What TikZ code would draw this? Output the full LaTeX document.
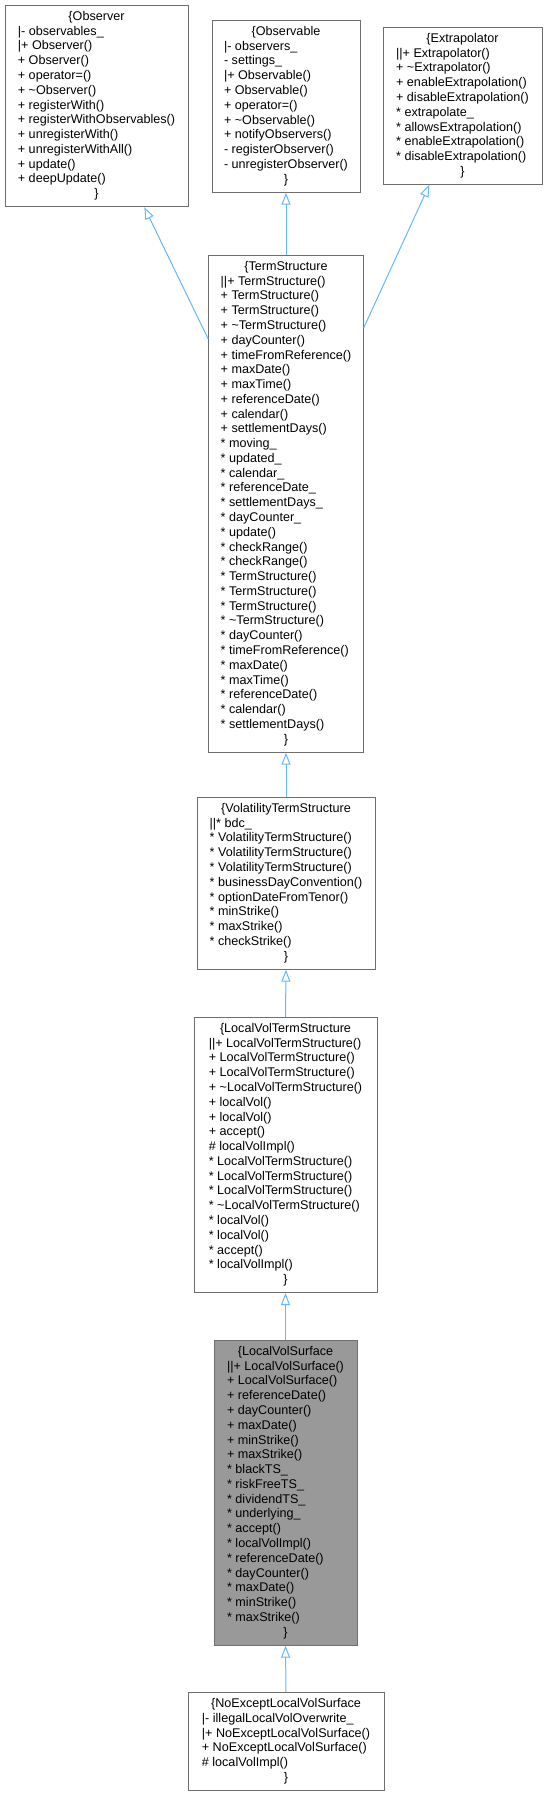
\documentclass[tikz,border=0pt]{standalone}
\usepackage{fontspec}
\setmainfont{Liberation Sans}
\usepackage{tikz}
\usetikzlibrary{arrows.meta,positioning}
\usepackage{xcolor}
\definecolor{edgeblue}{HTML}{63B8FF}
\definecolor{boxgray}{HTML}{6E6E6E}
\definecolor{fillgray}{HTML}{999999}
\newcommand{\ctitle}[1]{\multicolumn{1}{@{}c@{}}{#1}}

\begin{document}
\begin{tikzpicture}[
      x=1pt, y=-1pt,
      classbox/.style={draw=boxgray, line width=1pt, fill=white, anchor=north,
        inner xsep=0pt, inner ysep=4.6pt, font=\fontsize{12.6}{14.77}\selectfont},
      current/.style={classbox, fill=fillgray},
      inherit/.style={draw=edgeblue, line width=1pt, -{Triangle[open, length=12pt, width=9pt]}}
    ]
    \useasboundingbox (0,0) rectangle (548,1796);
    % Base classes
    \node[classbox, minimum width=183pt] (observer) at (96.5,5) {\begin{tabular}{@{}l@{}}
      \ctitle{\{Observer}\\
      |- observables\_\\
      |+ Observer()\\
      + Observer()\\
      + operator=()\\
      + \textasciitilde Observer()\\
      + registerWith()\\
      + registerWithObservables()\\
      + unregisterWith()\\
      + unregisterWithAll()\\
      + update()\\
      + deepUpdate()\\
      \ctitle{\}}
    \end{tabular}};
    \node[classbox, minimum width=148pt] (observable) at (286,20) {\begin{tabular}{@{}l@{}}
      \ctitle{\{Observable}\\
      |- observers\_\\
      - settings\_\\
      |+ Observable()\\
      + Observable()\\
      + operator=()\\
      + \textasciitilde Observable()\\
      + notifyObservers()\\
      - registerObserver()\\
      - unregisterObserver()\\
      \ctitle{\}}
    \end{tabular}};
    \node[classbox, minimum width=159pt] (extrapolator) at (462.5,27) {\begin{tabular}{@{}l@{}}
      \ctitle{\{Extrapolator}\\
      ||+ Extrapolator()\\
      + \textasciitilde Extrapolator()\\
      + enableExtrapolation()\\
      + disableExtrapolation()\\
      {*} extrapolate\_\\
      {*} allowsExtrapolation()\\
      {*} enableExtrapolation()\\
      {*} disableExtrapolation()\\
      \ctitle{\}}
    \end{tabular}};
    % Term structure chain
    \node[classbox, minimum width=154.6pt] (termstructure) at (286,255) {\begin{tabular}{@{}l@{}}
      \ctitle{\{TermStructure}\\
      ||+ TermStructure()\\
      + TermStructure()\\
      + TermStructure()\\
      + \textasciitilde TermStructure()\\
      + dayCounter()\\
      + timeFromReference()\\
      + maxDate()\\
      + maxTime()\\
      + referenceDate()\\
      + calendar()\\
      + settlementDays()\\
      {*} moving\_\\
      {*} updated\_\\
      {*} calendar\_\\
      {*} referenceDate\_\\
      {*} settlementDays\_\\
      {*} dayCounter\_\\
      {*} update()\\
      {*} checkRange()\\
      {*} checkRange()\\
      {*} TermStructure()\\
      {*} TermStructure()\\
      {*} TermStructure()\\
      {*} \textasciitilde TermStructure()\\
      {*} dayCounter()\\
      {*} timeFromReference()\\
      {*} maxDate()\\
      {*} maxTime()\\
      {*} referenceDate()\\
      {*} calendar()\\
      {*} settlementDays()\\
      \ctitle{\}}
    \end{tabular}};
    \node[classbox, minimum width=178pt] (volts) at (286,797) {\begin{tabular}{@{}l@{}}
      \ctitle{\{VolatilityTermStructure}\\
      ||* bdc\_\\
      {*} VolatilityTermStructure()\\
      {*} VolatilityTermStructure()\\
      {*} VolatilityTermStructure()\\
      {*} businessDayConvention()\\
      {*} optionDateFromTenor()\\
      {*} minStrike()\\
      {*} maxStrike()\\
      {*} checkStrike()\\
      \ctitle{\}}
    \end{tabular}};
    \node[classbox, minimum width=183pt] (localvolts) at (285.5,1017) {\begin{tabular}{@{}l@{}}
      \ctitle{\{LocalVolTermStructure}\\
      ||+ LocalVolTermStructure()\\
      + LocalVolTermStructure()\\
      + LocalVolTermStructure()\\
      + \textasciitilde LocalVolTermStructure()\\
      + localVol()\\
      + localVol()\\
      + accept()\\
      \# localVolImpl()\\
      {*} LocalVolTermStructure()\\
      {*} LocalVolTermStructure()\\
      {*} LocalVolTermStructure()\\
      {*} \textasciitilde LocalVolTermStructure()\\
      {*} localVol()\\
      {*} localVol()\\
      {*} accept()\\
      {*} localVolImpl()\\
      \ctitle{\}}
    \end{tabular}};
    % The documented class, highlighted
    \node[current, minimum width=143pt] (localvolsurface) at (285.5,1340) {\begin{tabular}{@{}l@{}}
      \ctitle{\{LocalVolSurface}\\
      ||+ LocalVolSurface()\\
      + LocalVolSurface()\\
      + referenceDate()\\
      + dayCounter()\\
      + maxDate()\\
      + minStrike()\\
      + maxStrike()\\
      {*} blackTS\_\\
      {*} riskFreeTS\_\\
      {*} dividendTS\_\\
      {*} underlying\_\\
      {*} accept()\\
      {*} localVolImpl()\\
      {*} referenceDate()\\
      {*} dayCounter()\\
      {*} maxDate()\\
      {*} minStrike()\\
      {*} maxStrike()\\
      \ctitle{\}}
    \end{tabular}};
    \node[classbox, minimum width=196pt] (noexcept) at (286,1692) {\begin{tabular}{@{}l@{}}
      \ctitle{\{NoExceptLocalVolSurface}\\
      |- illegalLocalVolOverwrite\_\\
      |+ NoExceptLocalVolSurface()\\
      + NoExceptLocalVolSurface()\\
      \# localVolImpl()\\
      \ctitle{\}}
    \end{tabular}};
    % Inheritance edges
    \draw[inherit] ([yshift=-84pt]termstructure.north west) -- ([xshift=47.8pt]observer.south);
    \draw[inherit] (termstructure.north) -- (observable.south);
    \draw[inherit] ([yshift=-72.7pt]termstructure.north east) -- ([xshift=-33.2pt]extrapolator.south);
    \draw[inherit] (volts.north) -- (termstructure.south);
    \draw[inherit] (localvolts.north) -- (volts.south);
    \draw[inherit] (localvolsurface.north) -- (localvolts.south);
    \draw[inherit] (noexcept.north) -- (localvolsurface.south);
  \end{tikzpicture}
\end{document}
